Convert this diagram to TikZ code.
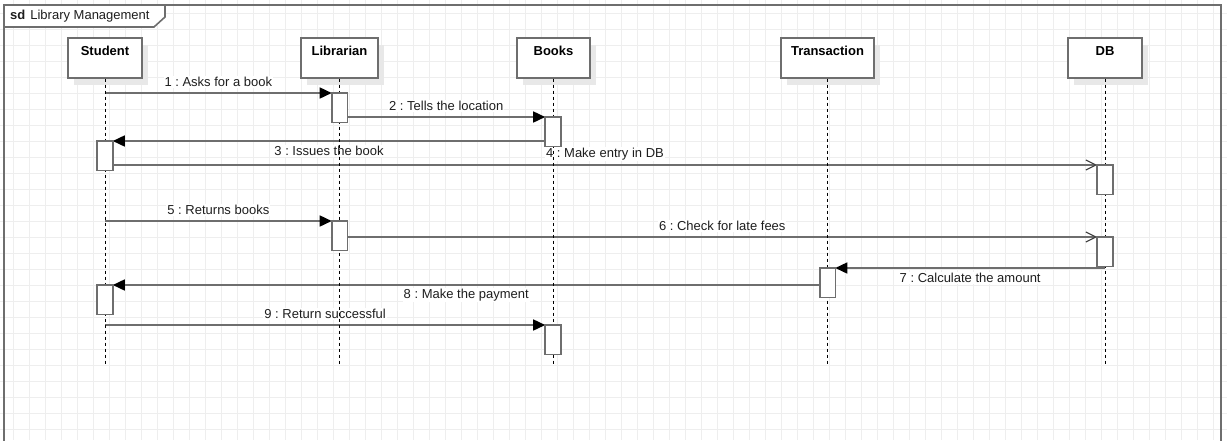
\documentclass[tikz,border=0pt]{standalone}
\usepackage{fontspec}
\setmainfont{Liberation Sans}
\usetikzlibrary{arrows.meta,shadows}
\definecolor{edgec}{RGB}{110,110,110}
\definecolor{gridc}{RGB}{238,238,238}
\definecolor{shadec}{RGB}{232,232,232}
\definecolor{txtc}{RGB}{30,30,30}
\frenchspacing
\begin{document}
\begin{tikzpicture}[x=1pt,y=-1pt,
  lbl/.style={font=\fontsize{13}{15}\selectfont, text=txtc, fill=white, inner sep=1pt, midway},
  lblup/.style={lbl, yshift=11pt},
  lbldown/.style={lbl, yshift=-10pt},
  head/.style={draw=edgec, line width=1.6pt, fill=white, anchor=north,
    minimum width=#1, inner xsep=2pt, inner ysep=4pt, text height=14pt, text depth=18pt,
    font=\fontsize{13}{15}\selectfont\bfseries, text=black,
    drop shadow={shadow xshift=6pt, shadow yshift=-7pt, fill=shadec, opacity=1}},
  act/.style={draw=edgec, line width=1.6pt, fill=white, anchor=north,
    minimum width=14pt, minimum height=28pt, inner sep=0pt},
  msg/.style={draw=edgec, line width=1.6pt},
  sync/.style={msg, -{Triangle[length=12pt,width=11pt,color=black]}},
  async/.style={msg, -{Straight Barb[length=10pt,width=10pt,line width=1.2pt,color=black!75]}},
  lifeline/.style={draw=black, line width=0.8pt, dash pattern=on 3pt off 3pt},
  framec/.style={draw=edgec, line width=1.6pt},
  gridline/.style={draw=gridc, line width=1pt}]
\useasboundingbox (0,0) rectangle (1227,440);
\clip (0,0) rectangle (1227,440);
\fill[white] (0,0) rectangle (1227,440);
% grid
\foreach \i in {0,...,76} \draw[gridline] ({13+16*\i},0) -- ({13+16*\i},440);
\foreach \j in {0,...,26} \draw[gridline] (0,{13+16*\j}) -- (1227,{13+16*\j});
% frame
\draw[framec] (4,5) rectangle (1221,470);
\draw[framec, fill=white] (4,5) -- (165,5) -- (165,17) -- (154,27) -- (4,27) -- cycle;
\node[anchor=west, inner sep=0pt, font=\fontsize{13}{15}\selectfont, text=txtc] (title) at (10,16) {\textbf{sd}\hspace{5pt}Library Management};
% heads
\node[head=74pt] (student) at (105,37) {Student};
\node[head=77pt] (librarian) at (339.5,37) {Librarian};
\node[head=73pt] (books) at (553.5,37) {Books};
\node[head=93pt] (transaction) at (827.5,37) {Transaction};
\node[head=74pt] (db) at (1105,37) {DB};
% lifeline ends
\coordinate (studentEnd) at (105,366);
\coordinate (librarianEnd) at (339.5,364);
\coordinate (booksEnd) at (553.5,366);
\coordinate (transactionEnd) at (827.5,364);
\coordinate (dbEnd) at (1105,364);
% activations (placed, drawn later)
\path
  (339.5,93) coordinate (pa1)
  (553,117) coordinate (pb1)
  (105,141) coordinate (ps1)
  (1105,165) coordinate (pd1)
  (339.5,221) coordinate (pa2)
  (1105,237) coordinate (pd2)
  (827.5,268) coordinate (pt1)
  (105,285) coordinate (ps2)
  (553,325) coordinate (pb2);
\path
  node[act, draw=none, fill=none] (a1) at (pa1) {}
  node[act, draw=none, fill=none] (b1) at (pb1) {}
  node[act, draw=none, fill=none] (s1) at (ps1) {}
  node[act, draw=none, fill=none] (d1) at (pd1) {}
  node[act, draw=none, fill=none] (a2) at (pa2) {}
  node[act, draw=none, fill=none] (d2) at (pd2) {}
  node[act, draw=none, fill=none] (t1) at (pt1) {}
  node[act, draw=none, fill=none] (s2) at (ps2) {}
  node[act, draw=none, fill=none] (b2) at (pb2) {};
% messages
\draw[sync] (student.south |- a1.north) -- node[lblup] (l1) {1 : Asks for a book} (a1.north west);
\draw[sync] (a1.east |- b1.north) -- node[lblup] (l2) {2 : Tells the location} (b1.north west);
\draw[sync] (b1.west |- s1.north) -- node[lbldown] (l3) {3 : Issues the book} (s1.north east);
\draw[async] (s1.east |- d1.north) -- node[lblup] (l4) {4 : Make entry in DB} (d1.north west);
\draw[sync] (student.south |- a2.north) -- node[lblup] (l5) {5 : Returns books} (a2.north west);
\draw[async] (a2.east |- d2.north) -- node[lblup] (l6) {6 : Check for late fees} (d2.north west);
\draw[sync] (db.south |- t1.north) -- node[lbldown] (l7) {7 : Calculate the amount} (t1.north east);
\draw[sync] (t1.west |- s2.north) -- node[lbldown] (l8) {8 : Make the payment} (s2.north east);
\draw[sync] (student.south |- b2.north) -- node[lblup] (l9) {9 : Return successful} (b2.north west);
% lifelines
\draw[lifeline] (student.south) -- (studentEnd);
\draw[lifeline] (librarian.south) -- (librarianEnd);
\draw[lifeline] (books.south) -- (booksEnd);
\draw[lifeline] (transaction.south) -- (transactionEnd);
\draw[lifeline] (db.south) -- (dbEnd);
% activation boxes drawn on top
\foreach \n in {a1,b1,s1,d1,a2,d2,t1,s2,b2}
  \draw[draw=edgec, line width=1.6pt, fill=white] (\n.north west) rectangle (\n.south east);
\end{tikzpicture}
\end{document}
